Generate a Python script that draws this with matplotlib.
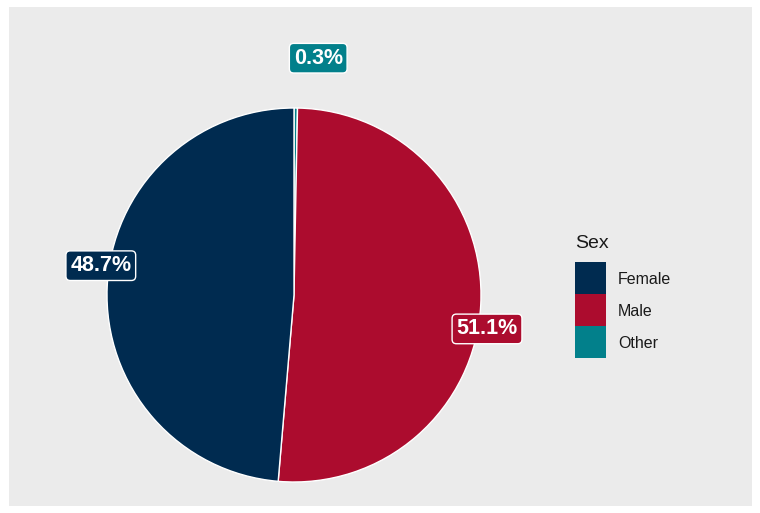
import matplotlib
matplotlib.use("Agg")
import matplotlib.pyplot as plt
from matplotlib.patches import Rectangle
import numpy as np

# Share of respondents by sex (percent)
categories = ["Female", "Male", "Other"]
shares = [48.7, 51.1, 0.3]
colors = {"Female": "#002B50", "Male": "#AC0C2E", "Other": "#02808B"}

W, H = 760, 513
fig = plt.figure(figsize=(W / 100, H / 100), dpi=100, facecolor="white")

# grey panel background
fig.patches.append(Rectangle((9 / W, 7 / H), (752 - 9) / W, (506 - 7) / H,
                             transform=fig.transFigure, facecolor="#EBEBEB",
                             edgecolor="none", zorder=-5))

# pie axes: centre (294, 295) px, radius 187 px
cx, cy, r = 294, 295, 187
ax = fig.add_axes([(cx - r) / W, (H - cy - r) / H, 2 * r / W, 2 * r / H])
ax.set_zorder(1)
ax.axis("off")

# slices go clockwise from 12 o'clock in reverse category order
pie_order = categories[::-1]
pie_vals = [shares[categories.index(c)] for c in pie_order]
wedges, _ = ax.pie(pie_vals, colors=[colors[c] for c in pie_order],
                   startangle=90, counterclock=False, radius=1.0,
                   wedgeprops=dict(edgecolor="white", linewidth=1.0))
ax.set_xlim(-1, 1)
ax.set_ylim(-1, 1)
ax.set_aspect("equal")

# value labels placed outward from each slice's middle angle (radius, angle nudge in degrees)
label_place = {"Other": (1.273, 5.3), "Male": (1.048, 7.0), "Female": (1.045, 6.2)}
total = sum(pie_vals)
start = 0.0
for c, v in zip(pie_order, pie_vals):
    mid = start + v / 2
    start += v
    rad, nudge = label_place[c]
    theta = np.deg2rad(mid / total * 360 + nudge)
    x, y = rad * np.sin(theta), rad * np.cos(theta)
    ax.text(x, y, f"{v:.1f}%", ha="center", va="center", color="white",
            fontsize=15.5, fontweight="bold", family="Liberation Sans",
            clip_on=False, zorder=5,
            bbox=dict(boxstyle="round,pad=0.2,rounding_size=0.2",
                      facecolor=colors[c], edgecolor="white", linewidth=1.0))

# legend
fig.text(575 / W, 1 - 244 / H, "Sex", ha="left", va="center", fontsize=14,
         family="Liberation Sans", color="#1a1a1a")
key_w, key_h = 31, 32
for i, c in enumerate(categories):
    top = 262 + i * key_h
    fig.patches.append(Rectangle((575 / W, 1 - (top + key_h) / H), key_w / W, key_h / H,
                                 transform=fig.transFigure, facecolor=colors[c],
                                 edgecolor="none", zorder=2))
    fig.text(618 / W, 1 - (top + key_h / 2 + 2) / H, c, ha="left", va="center",
             fontsize=11.5, family="Liberation Sans", color="#1a1a1a")

fig.savefig("out.png", dpi=100, facecolor="white")
